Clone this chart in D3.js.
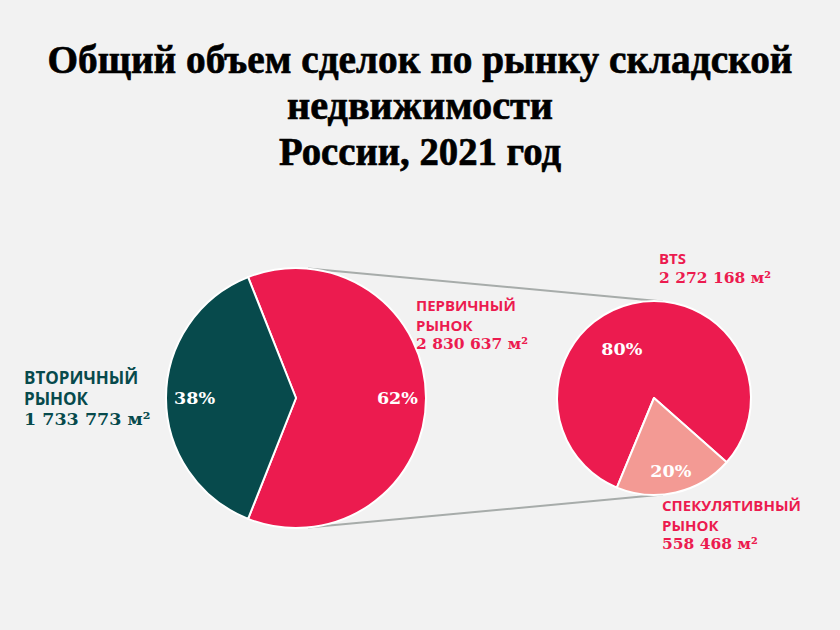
<!DOCTYPE html>
<html>
<head>
<meta charset="utf-8">
<script src="https://cdn.jsdelivr.net/npm/d3@7"></script>
<style>
    body { margin: 0; background: #f2f2f2; }
    svg { display: block; }
    .sans { font-family: "Open Sans", "DejaVu Sans", sans-serif; font-weight: 700; }
    .serif { font-family: "DejaVu Serif", serif; font-weight: 700; }
</style>
</head>
<body>
<svg id="chart" width="840" height="630"></svg>
<script>
// Data
const titleLines = ["Общий объем сделок по рынку складской", "недвижимости", "России, 2021 год"];

const marketNames = [["ПЕРВИЧНЫЙ", "РЫНОК"], ["ВТОРИЧНЫЙ", "РЫНОК"]];
const marketValues = [2830637, 1733773];

const primaryNames = [["BTS"], ["СПЕКУЛЯТИВНЫЙ", "РЫНОК"]];
const primaryValues = [2272168, 558468];

const colors = {
    pink: "#ec1b4f",
    teal: "#074a4c",
    light: "#f39a94",
    line: "#a7acaa"
};

const svg = d3.select("#chart");
const width = +svg.attr("width");
const height = +svg.attr("height");
const deg = Math.PI / 180;

svg.append("rect").attr("width", width).attr("height", height).attr("fill", "#f2f2f2");

// Title (condensed heavy serif look)
const titleWidths = [745, 266, 282];
svg.append("g").selectAll("text")
    .data(titleLines)
    .enter().append("text")
    .attr("x", width / 2)
    .attr("y", (d, i) => 73 + i * 46)
    .attr("text-anchor", "middle")
    .attr("font-family", "'Liberation Serif', serif")
    .attr("font-weight", "bold")
    .attr("font-size", "41px")
    .attr("fill", "#000")
    .attr("stroke", "#000")
    .attr("stroke-width", 0.7)
    .attr("textLength", (d, i) => titleWidths[i])
    .attr("lengthAdjust", "spacingAndGlyphs")
    .text(d => d);

// Pie geometry
const big = { cx: 296, cy: 398, r: 130, focus: 270 * deg };
const small = { cx: 654, cy: 398, r: 97, focus: 167 * deg };

// start angle so that the second slice is centred on "focus"
function startFor(values, focus) {
    const p = values[0] / d3.sum(values);
    return focus - Math.PI * (1 + p);
}

// Connector lines: external tangents of the two circles
const dist = small.cx - big.cx;
const theta = Math.asin((big.r - small.r) / dist);
[1, -1].forEach(side => {
    const a = side > 0 ? theta : Math.PI - theta;
    svg.append("line")
        .attr("x1", big.cx + big.r * Math.sin(a))
        .attr("y1", big.cy - big.r * Math.cos(a))
        .attr("x2", small.cx + small.r * Math.sin(a))
        .attr("y2", small.cy - small.r * Math.cos(a))
        .attr("stroke", colors.line)
        .attr("stroke-width", 2);
});

const fmt = v => d3.format(",")(v).replace(/,/g, " ") + " м²";

function drawPie(geo, values, fills, labelPos) {
    const total = d3.sum(values);
    const start = startFor(values, geo.focus);
    const pie = d3.pie().sort(null).startAngle(start).endAngle(start + 2 * Math.PI);
    const arcs = pie(values);
    const arc = d3.arc().innerRadius(0).outerRadius(geo.r);

    const g = svg.append("g").attr("transform", `translate(${geo.cx},${geo.cy})`);

    g.selectAll("path")
        .data(arcs)
        .enter().append("path")
        .attr("d", arc)
        .attr("fill", (d, i) => fills[i])
        .attr("stroke", "#fff")
        .attr("stroke-width", 2)
        .attr("stroke-linejoin", "round");

    // Percent labels
    const pos = (d, i) => {
        const a = (d.startAngle + d.endAngle) / 2 + labelPos[i].shift * deg;
        return [Math.sin(a) * geo.r * labelPos[i].k, -Math.cos(a) * geo.r * labelPos[i].k];
    };
    g.selectAll(".pct")
        .data(arcs)
        .enter().append("text")
        .attr("class", "pct serif")
        .attr("x", (d, i) => pos(d, i)[0])
        .attr("y", (d, i) => pos(d, i)[1])
        .attr("dy", "0.36em")
        .attr("text-anchor", "middle")
        .attr("font-size", "17.5px")
        .attr("fill", "#fff")
        .text(d => Math.round(d.value / total * 100) + "%");
}

drawPie(big, marketValues, [colors.pink, colors.teal], [{ k: 0.78, shift: 0 }, { k: 0.78, shift: 0 }]);
drawPie(small, primaryValues, [colors.pink, colors.light], [{ k: 0.61, shift: -20 }, { k: 0.77, shift: 0 }]);

// Category annotations
function drawLabel(x, y, names, value, color, sansSize, serifSize, gap) {
    const g = svg.append("g").attr("fill", color);
    names.forEach((n, i) => {
        g.append("text")
            .attr("class", "sans")
            .attr("x", x)
            .attr("y", y + i * gap)
            .attr("font-size", sansSize + "px")
            .text(n);
    });
    g.append("text")
        .attr("class", "serif")
        .attr("x", x)
        .attr("y", y + names.length * gap - 1)
        .attr("font-size", serifSize + "px")
        .text(fmt(value));
}

drawLabel(24, 384, marketNames[1], marketValues[1], colors.teal, 17, 17.5, 21);
drawLabel(416, 311, marketNames[0], marketValues[0], colors.pink, 15, 15.5, 19.5);
drawLabel(659, 264, primaryNames[0], primaryValues[0], colors.pink, 15, 15.5, 20);
drawLabel(662, 511, primaryNames[1], primaryValues[1], colors.pink, 15, 15.5, 19.5);
</script>
</body>
</html>
